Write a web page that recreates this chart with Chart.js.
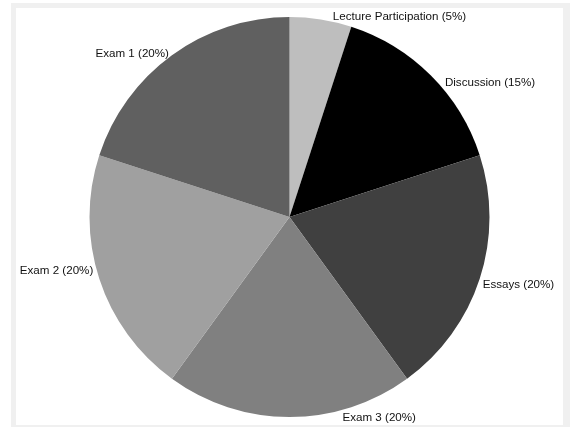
<!DOCTYPE html>
<html>
<head>
<meta charset="utf-8">
<script src="https://cdn.jsdelivr.net/npm/chart.js@4"></script>
<style>
    html, body { margin: 0; padding: 0; background: #fff; overflow: hidden; }
    #frame {
        position: absolute; left: 11px; top: 3px;
        width: 570px; height: 440px;
        background: #f0f0f0;
    }
    #box {
        position: absolute; left: 5px; top: 5px;
        width: 547px; height: 417px;
        background: #fff;
    }
</style>
</head>
<body>
<div id="frame"><div id="box"><canvas id="pie" width="547" height="417"></canvas></div></div>
<script>
// Kategorien und Gewichtung (Prozent)
const categories = ['Lecture Participation', 'Discussion', 'Essays', 'Exam 3', 'Exam 2', 'Exam 1'];
const weights = [5, 15, 20, 20, 20, 20];
const sliceColors = ['#bebebe', '#000000', '#404040', '#808080', '#a0a0a0', '#606060'];
// Feinverschiebung der Beschriftungen relativ zum Bogenmittelpunkt
const labelNudge = [[12, -3], [14, 7], [3, 6], [53, 1], [-6, -8], [-3, -1]];

// Beschriftungen außen am Kreis zeichnen
const outsideLabels = {
    id: 'outsideLabels',
    afterDatasetsDraw(chart) {
        const ctx = chart.ctx;
        const meta = chart.getDatasetMeta(0);
        ctx.save();
        ctx.font = '11.6px "Liberation Sans", Arial, sans-serif';
        ctx.fillStyle = '#111';
        ctx.textBaseline = 'middle';
        meta.data.forEach((arc, i) => {
            const p = arc.getProps(['x', 'y', 'startAngle', 'endAngle', 'outerRadius'], true);
            const mid = (p.startAngle + p.endAngle) / 2;
            const px = p.x + Math.cos(mid) * p.outerRadius;
            const py = p.y + Math.sin(mid) * p.outerRadius;
            ctx.textAlign = Math.cos(mid) >= -0.001 ? 'left' : 'right';
            const text = `${categories[i]} (${weights[i]}%)`;
            ctx.fillText(text, px + labelNudge[i][0], py + labelNudge[i][1]);
        });
        ctx.restore();
    }
};

const ctx = document.getElementById('pie').getContext('2d');
new Chart(ctx, {
    type: 'pie',
    data: {
        labels: categories,
        datasets: [{
            data: weights,
            backgroundColor: sliceColors,
            borderWidth: 0
        }]
    },
    options: {
        responsive: false,
        animation: false,
        layout: { padding: { top: 9, bottom: 8, left: 0, right: 0 } },
        plugins: {
            legend: { display: false },
            tooltip: { enabled: false }
        }
    },
    plugins: [outsideLabels]
});
</script>
</body>
</html>
